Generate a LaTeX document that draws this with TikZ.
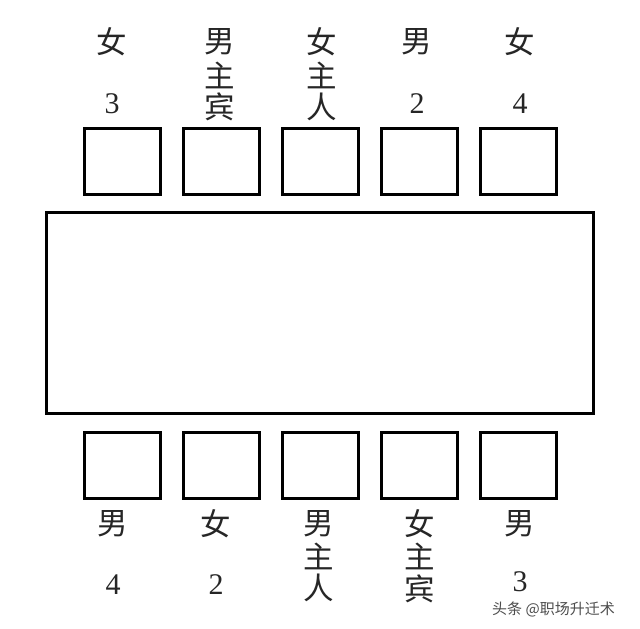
\documentclass[tikz,border=0pt]{standalone}
\usepackage{fontspec}
\setmainfont{Liberation Serif}
\newfontfamily\cjk{Noto Sans CJK SC}
\begin{document}
\begin{tikzpicture}[x=1pt,y=-1pt,
  seat/.style={draw=black,line width=3pt,minimum width=76pt,minimum height=66pt,inner sep=0pt},
  tablebox/.style={draw=black,line width=3pt,minimum width=547pt,minimum height=201pt,inner sep=0pt},
  ch/.style={font=\cjk\fontsize{30.5}{30.5}\selectfont,inner sep=0pt,text=black!85},
  num/.style={font=\fontsize{30}{30}\selectfont,inner sep=0pt,text=black!85},
  wm/.style={font=\cjk\fontsize{15}{15}\selectfont,inner sep=0pt,text=black!70}]
\useasboundingbox (0,0) rectangle (640,629);
\node[tablebox] (table) at (319.5,312.5) {};
% top seats
\node[seat] (t1) at (122,161.5) {};
\node[seat] (t2) at (221,161.5) {};
\node[seat] (t3) at (320,161.5) {};
\node[seat] (t4) at (419,161.5) {};
\node[seat] (t5) at (518,161.5) {};
% bottom seats
\node[seat] (b1) at (122,465.5) {};
\node[seat] (b2) at (221,465.5) {};
\node[seat] (b3) at (320,465.5) {};
\node[seat] (b4) at (419,465.5) {};
\node[seat] (b5) at (518,465.5) {};
% top labels
\node[ch] (l1a) at (112,42) {女};
\node[num] (l1b) at (112,104) {3};
\node[ch] (l2a) at (220,42) {男};
\node[ch] (l2b) at (220,75) {主};
\node[ch] (l2c) at (220,107) {宾};
\node[ch] (l3a) at (322,42) {女};
\node[ch] (l3b) at (322,75) {主};
\node[ch] (l3c) at (322,107) {人};
\node[ch] (l4a) at (417,42) {男};
\node[num] (l4b) at (417,104) {2};
\node[ch] (l5a) at (520,42) {女};
\node[num] (l5b) at (520,104) {4};
% bottom labels
\node[ch] (m1a) at (113,524) {男};
\node[num] (m1b) at (113,585) {4};
\node[ch] (m2a) at (216,524) {女};
\node[num] (m2b) at (216,585) {2};
\node[ch] (m3a) at (319,524) {男};
\node[ch] (m3b) at (319,556) {主};
\node[ch] (m3c) at (319,588) {人};
\node[ch] (m4a) at (420,524) {女};
\node[ch] (m4b) at (420,556) {主};
\node[ch] (m4c) at (420,589) {宾};
\node[ch] (m5a) at (520,524) {男};
\node[num] (m5b) at (520,582) {3};
% watermark
\node[wm,anchor=west] (wm) at (492,609) {头条 @职场升迁术};
\end{tikzpicture}
\end{document}
